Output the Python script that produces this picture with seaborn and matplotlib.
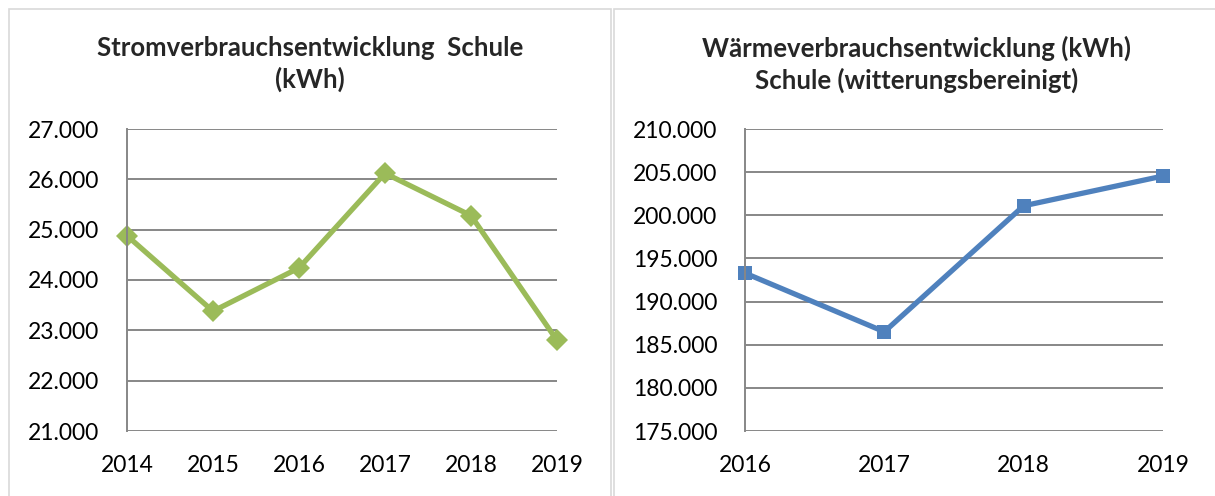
import pandas as pd
import seaborn as sns
from matplotlib import pyplot as plt
from matplotlib.patches import Rectangle
from matplotlib.ticker import FuncFormatter

# Daten
strom_jahre = [2014, 2015, 2016, 2017, 2018, 2019]
strom_kwh = [24880, 23380, 24240, 26120, 25280, 22800]
waerme_jahre = [2016, 2017, 2018, 2019]
waerme_kwh = [193300, 186500, 201100, 204550]

sns.set_style("white")
plt.rcParams['font.family'] = ['Lato', 'DejaVu Sans']

fig = plt.figure(figsize=(12.15, 4.96), dpi=100)
W, H = 1215, 496

# Rahmen der beiden Diagrammflaechen
fig.patches.append(Rectangle((9 / W, -0.05), (611 - 9) / W, 1 - 9 / H + 0.05,
                             transform=fig.transFigure, fill=False,
                             edgecolor="#D9D9D9", lw=1.2))
fig.patches.append(Rectangle((614 / W, -0.05), 0.6, 1 - 9 / H + 0.05,
                             transform=fig.transFigure, fill=False,
                             edgecolor="#D9D9D9", lw=1.2))

dot = FuncFormatter(lambda v, p: f"{v:,.0f}".replace(",", "."))


def style_axes(ax, jahre, ymin, ymax, step):
    ax.set_xlim(jahre[0], jahre[-1])
    ax.set_ylim(ymin, ymax)
    ax.set_xticks(jahre)
    ax.set_yticks(range(ymin, ymax + 1, step))
    ax.yaxis.set_major_formatter(dot)
    ax.grid(axis="y", color="#878787", lw=1.4)
    ax.set_axisbelow(True)
    for s in ["top", "right", "bottom"]:
        ax.spines[s].set_visible(False)
    ax.spines["left"].set_color("#878787")
    ax.spines["left"].set_linewidth(1.4)
    ax.tick_params(length=0, labelsize=16.5, colors="black")
    ax.tick_params(axis="x", pad=17)
    ax.tick_params(axis="y", pad=20)
    ax.set_xlabel("")
    ax.set_ylabel("")


# Stromverbrauch
ax1 = fig.add_axes([127 / W, 1 - 431 / H, (557 - 127) / W, (431 - 129) / H])
sns.lineplot(x=strom_jahre, y=strom_kwh, ax=ax1, color="#9BBB59", lw=3.8,
             marker="D", markersize=11, markeredgewidth=0, clip_on=False)
style_axes(ax1, strom_jahre, 21000, 27000, 1000)
fig.text(310 / W, 1 - 64 / H, "Stromverbrauchsentwicklung  Schule\n(kWh)",
         ha="center", va="center", fontsize=18.5, fontweight="bold",
         linespacing=1.3)

# Waermeverbrauch
ax2 = fig.add_axes([745 / W, 1 - 431 / H, (1163 - 745) / W, (431 - 129) / H])
sns.lineplot(x=waerme_jahre, y=waerme_kwh, ax=ax2, color="#4F81BD", lw=3.8,
             marker="s", markersize=10, markeredgewidth=0, clip_on=False)
style_axes(ax2, waerme_jahre, 175000, 210000, 5000)
fig.text(917 / W, 1 - 64 / H, "Wärmeverbrauchsentwicklung (kWh)\nSchule (witterungsbereinigt)",
         ha="center", va="center", fontsize=18.5, fontweight="bold",
         linespacing=1.3)

fig.savefig("out.png", dpi=100)
